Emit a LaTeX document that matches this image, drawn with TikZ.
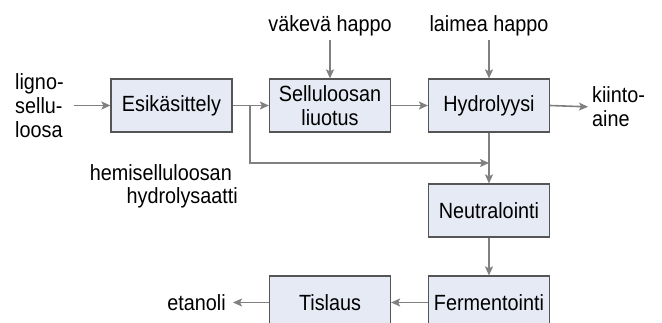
\documentclass[tikz,border=0pt]{standalone}
\usepackage{fontspec}
\setmainfont[FakeStretch=0.9]{Liberation Sans}
\usetikzlibrary{arrows.meta}
\definecolor{boxfill}{HTML}{E6EAF4}
\definecolor{boxline}{HTML}{555555}
\definecolor{arrcol}{HTML}{808080}
\begin{document}
\begin{tikzpicture}[x=1pt,y=-1pt,
  font=\fontsize{22}{24}\selectfont,
  procbox/.style={draw=boxline,fill=boxfill,line width=1.2pt,minimum width=121pt,minimum height=53pt,inner sep=0pt,align=center,font=\fontsize{22}{23.5}\selectfont},
  lbl/.style={inner sep=0pt,align=left},
  arr/.style={draw=arrcol,line width=1.6pt,-{Stealth[length=9pt,width=8pt,inset=2pt]}},
  ln/.style={draw=arrcol,line width=1.6pt}]
\useasboundingbox (0,0) rectangle (662,323);
\clip (0,0) rectangle (662,323);
\node[procbox] (esik) at (171.5,105.5) {Esikäsittely};
\node[procbox] (sell) at (330,105.5) {Selluloosan\\liuotus};
\node[procbox] (hyd) at (489,105.5) {Hydrolyysi};
\node[procbox] (neut) at (489,210.5) {Neutralointi};
\node[procbox] (ferm) at (489,302.5) {Fermentointi};
\node[procbox] (tis) at (330,302.5) {Tislaus};
\node[lbl,anchor=west] (lig) at (15,105.5) {ligno-\\sellu-\\loosa};
\node[lbl,anchor=south] (vak) at (330,36) {väkevä happo};
\node[lbl,anchor=south] (lai) at (489,36) {laimea happo};
\node[lbl,anchor=west] (kii) at (592,107) {kiinto-\\aine};
\node[lbl,anchor=base east] (hemA) at (232,181) {hemiselluloosan};
\node[lbl,anchor=base east] (hemB) at (238,204) {hydrolysaatti};
\node[lbl,anchor=east] (eta) at (226,302.5) {etanoli};
\coordinate (br) at (250,105.5);
\coordinate (jn) at (489,163);
\draw[arr,shorten <=10pt] (lig.east) -- (esik.west);
\draw[arr] (esik.east) -- (sell.west);
\draw[arr] (br) |- (jn);
\draw[arr] (sell.east) -- (hyd.west);
\draw[arr,shorten <=4pt] (vak.south) -- (sell.north);
\draw[arr,shorten <=4pt] (lai.south) -- (hyd.north);
\draw[arr,shorten >=4pt] (hyd.east) -- (kii.west);
\draw[arr] (hyd.south) -- (neut.north);
\draw[arr] (neut.south) -- (ferm.north);
\draw[arr] (ferm.west) -- (tis.east);
\draw[arr,shorten >=7pt] (tis.west) -- (eta.east);
\end{tikzpicture}
\end{document}
